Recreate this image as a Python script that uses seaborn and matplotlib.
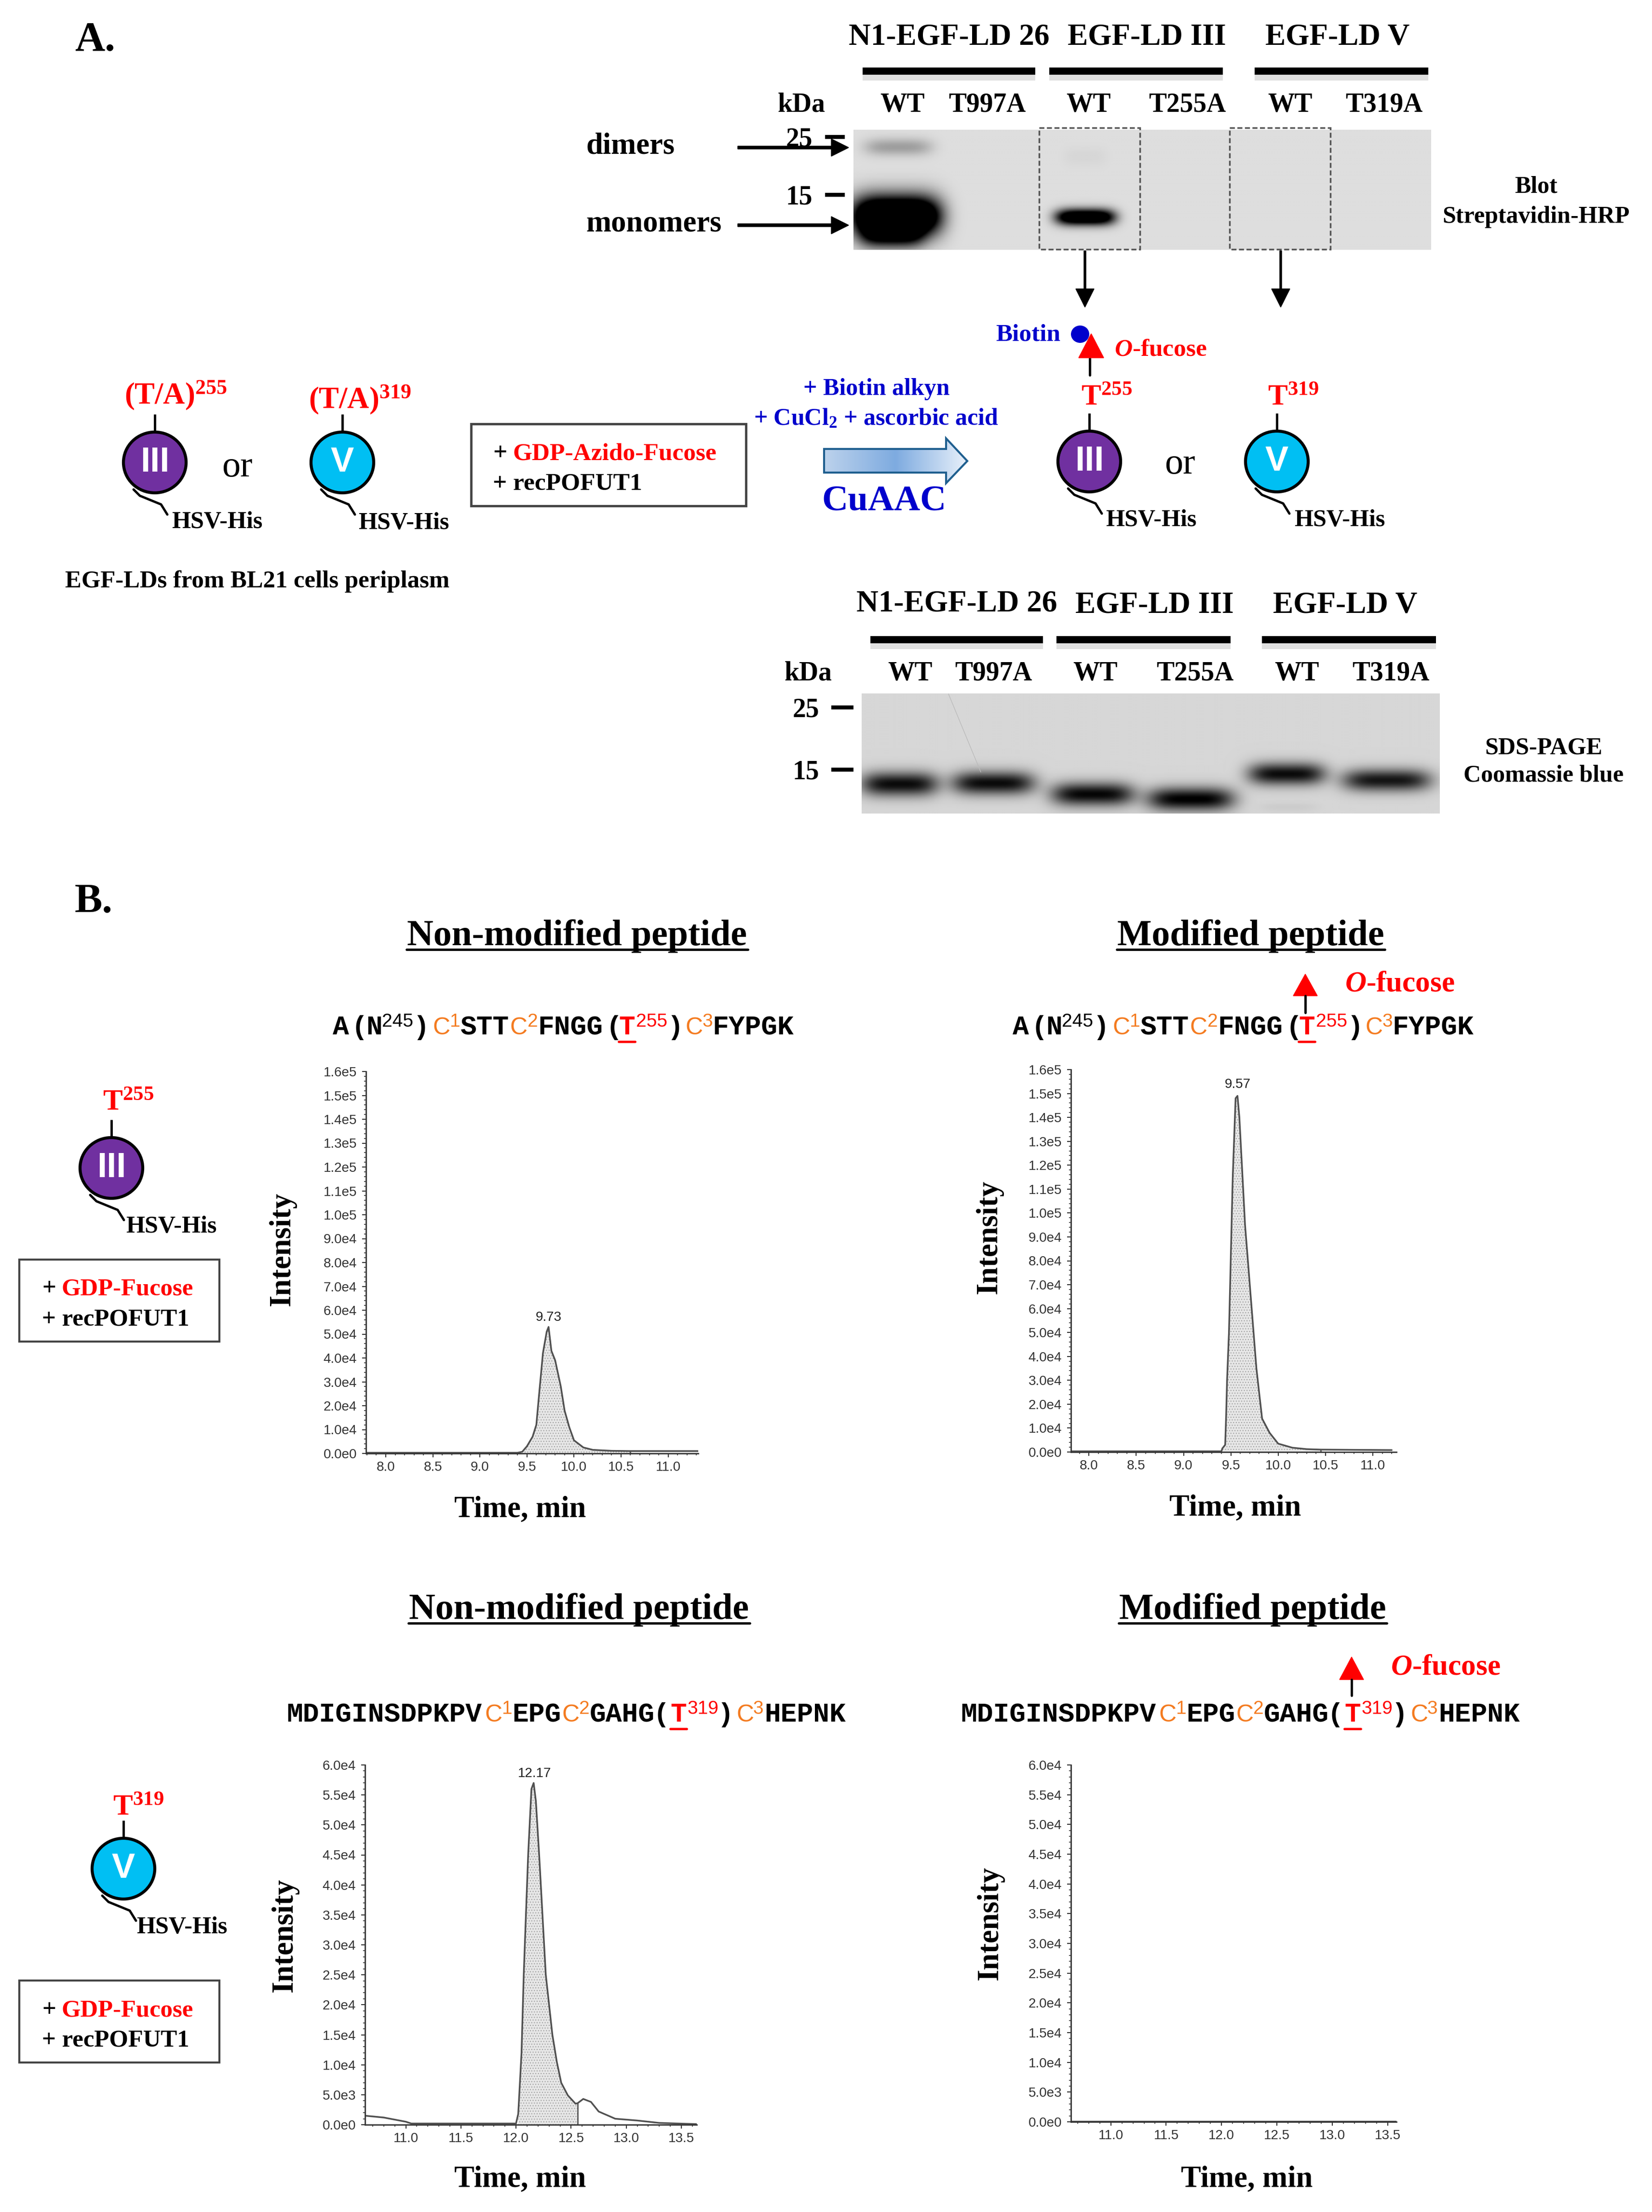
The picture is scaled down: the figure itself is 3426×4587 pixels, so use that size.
import matplotlib
matplotlib.use('Agg')
import matplotlib.pyplot as plt
import numpy as np
import seaborn as sns
from matplotlib.colors import LinearSegmentedColormap
from matplotlib.patches import Ellipse, Polygon, Rectangle
from matplotlib.ticker import MultipleLocator

W, H = 3426, 4587

# chromatograms (time in min, intensity in counts)
t255_free_time = [7.79, 9.0, 9.4, 9.45, 9.5, 9.56, 9.6, 9.63, 9.67, 9.71, 9.73, 9.76, 9.8, 9.86, 9.9, 9.95,
                  10.0, 10.1, 10.2, 10.4, 10.6, 11.0, 11.32]
t255_free_int = [300, 300, 300, 700, 3000, 7000, 12000, 25000, 42000, 51000, 53000, 43000, 39000, 28000, 18000,
                 11000, 5500, 2500, 1500, 1100, 1000, 1000, 1000]
t255_mod_time = [7.81, 9.0, 9.4, 9.41, 9.44, 9.45, 9.46, 9.48, 9.52, 9.55, 9.57, 9.59, 9.65, 9.72, 9.77, 9.83,
                 9.91, 10.0, 10.15, 10.3, 10.45, 10.8, 11.2]
t255_mod_int = [300, 300, 300, 1500, 3000, 15000, 30000, 50000, 115000, 148000, 149000, 140000, 95000, 60000,
                35000, 14000, 8000, 3500, 1800, 1200, 1000, 900, 800]
t319_free_time = [10.63, 10.8, 11.0, 11.05, 11.5, 12.0, 12.02, 12.05, 12.07, 12.09, 12.11, 12.14, 12.16, 12.18,
                  12.21, 12.27, 12.33, 12.37, 12.41, 12.47, 12.54, 12.56, 12.61, 12.68, 12.75, 12.9, 13.1, 13.3,
                  13.64]
t319_free_int = [1500, 1200, 500, 200, 200, 200, 1800, 12000, 25000, 35000, 45000, 56000, 57000, 54000, 45000,
                 25000, 15000, 10500, 7000, 4900, 3500, 3600, 4300, 3800, 2200, 1000, 700, 300, 100]
t319_mod_time = [10.64, 13.58]
t319_mod_int = [100, 100]

# integrated windows of the shaded peaks (min)
t255_free_area = (9.45, 10.6)
t255_mod_area = (9.41, 10.45)
t319_free_area = (12.02, 12.56)

high_ticks = [0, 1e4, 2e4, 3e4, 4e4, 5e4, 6e4, 7e4, 8e4, 9e4, 1e5, 1.1e5, 1.2e5, 1.3e5, 1.4e5, 1.5e5, 1.6e5]
high_labels = ['0.0e0', '1.0e4', '2.0e4', '3.0e4', '4.0e4', '5.0e4', '6.0e4', '7.0e4', '8.0e4', '9.0e4', '1.0e5',
               '1.1e5', '1.2e5', '1.3e5', '1.4e5', '1.5e5', '1.6e5']
low_ticks = [0, 5e3, 1e4, 1.5e4, 2e4, 2.5e4, 3e4, 3.5e4, 4e4, 4.5e4, 5e4, 5.5e4, 6e4]
low_labels = ['0.0e0', '5.0e3', '1.0e4', '1.5e4', '2.0e4', '2.5e4', '3.0e4', '3.5e4', '4.0e4', '4.5e4', '5.0e4',
              '5.5e4', '6.0e4']
early_ticks = [8.0, 8.5, 9.0, 9.5, 10.0, 10.5, 11.0]
late_ticks = [11.0, 11.5, 12.0, 12.5, 13.0, 13.5]

# gel bands: lane centre, half width, band centre, half height, darkness (all on the gel picture)
blot_bands = [(1858, 92, 448, 42, 1.7), (1848, 66, 490, 26, 0.6), (1862, 70, 304, 18, 0.25),
              (2250, 62, 450, 17, 1.3), (2250, 45, 324, 20, 0.03)]
page_bands = [(1865, 80, 1626, 25, 0.8), (2059, 86, 1624, 24, 0.8), (2265, 86, 1647, 24, 0.82),
              (2468, 90, 1657, 24, 0.85), (2667, 80, 1605, 23, 0.8), (2874, 92, 1618, 23, 0.76),
              (2670, 60, 1674, 10, 0.04)]

blot_headers = ['N1-EGF-LD 26', 'EGF-LD III', 'EGF-LD V']
lanes = ['WT', 'T997A', 'WT', 'T255A', 'WT', 'T319A']

sns.set_theme(style='ticks')
plt.rcParams['font.family'] = 'Liberation Serif'
plt.rcParams['hatch.linewidth'] = 0.8
plt.rcParams['mathtext.fontset'] = 'custom'
plt.rcParams['mathtext.rm'] = 'Liberation Serif:bold'
plt.rcParams['mathtext.it'] = 'Liberation Serif:italic:bold'
plt.rcParams['mathtext.default'] = 'rm'

fig = plt.figure(figsize=(W / 100, H / 100), dpi=100, facecolor='white')


def px_axes(left, top, right, bottom):
    return fig.add_axes([left / W, 1 - bottom / H, (right - left) / W, (bottom - top) / H])


RED = '#ff0000'
BLUE = '#0000cc'
ORANGE = '#f47b20'

# overlay in picture pixels for all the schematic parts
ov = fig.add_axes([0, 0, 1, 1])
ov.set_zorder(10)
ov.patch.set_visible(False)
ov.axis('off')


def label(x, y, s, size=36, color='black', weight='bold', **kw):
    kw.setdefault('ha', 'center')
    kw.setdefault('va', 'center')
    ov.text(x, y + 5, s, fontsize=size, color=color, fontweight=weight, **kw)


def domain(cx, cy, name, color):
    ov.plot([cx, cx], [cy - 100, cy - 60], color='black', lw=3.5, solid_capstyle='butt')
    ov.add_patch(Ellipse((cx, cy), 130, 126, fc=color, ec='black', lw=4.5, zorder=3))
    ov.plot([cx - 44, cx - 31, cx + 13, cx + 26], [cy + 56, cy + 69, cy + 87, cy + 108], color='black', lw=3.5)
    ov.text(cx, cy, name, color='white', fontsize=52, fontweight='bold', family='Liberation Sans',
            ha='center', va='center', zorder=4)


def gel(left, top, right, bottom, bands, background):
    ax = px_axes(left, top, right, bottom)
    xs = np.arange(left, right, 2.0)
    ys = np.arange(top, bottom, 2.0)
    xx, yy = np.meshgrid(xs, ys)
    img = np.full(xx.shape, background)
    for cx, wx, cy, wy, dark in bands:
        img -= dark * np.exp(-((xx - cx) / wx) ** 4 - ((yy - cy) / wy) ** 2)
    ax.imshow(np.clip(img, 0, 1), cmap='gray', vmin=0, vmax=1, aspect='auto', interpolation='bilinear')
    ax.axis('off')


def bar(x0, x1, y):
    ov.add_patch(Rectangle((x0, y + 7), x1 - x0, 12, fc='#bbbbbb', ec='none', alpha=0.45))
    ov.add_patch(Rectangle((x0, y - 8), x1 - x0, 15, fc='black', ec='none'))


def lane_row(y, bars, lane_x, kda_x, kda_y):
    for x0, x1 in bars:
        bar(x0, x1, y)
    label(kda_x, kda_y, 'kDa', size=40)
    for s, lx in zip(lanes, lane_x):
        label(lx, kda_y, s, size=40)


def seq(x0, base, parts):
    for text, kind, dx in parts:
        if kind in ('sup', 'sup_o', 'sup_r'):
            col = {'sup': 'black', 'sup_o': ORANGE, 'sup_r': RED}[kind]
            ov.text(x0 + dx, base - 16, text, fontsize=28, color=col, family='Liberation Sans', ha='left',
                    va='baseline')
        elif kind == 'o':
            ov.text(x0 + dx, base, text, fontsize=36, color=ORANGE, family='Liberation Sans', ha='left',
                    va='baseline')
        else:
            col = RED if kind == 'r' else 'black'
            ov.text(x0 + dx, base, text, fontsize=40.5, color=col, family='Liberation Mono', fontweight='bold',
                    ha='left', va='baseline')


def fucose_arrow(x, top, mid, bottom, text_x, text_y):
    ov.add_patch(Polygon([(x - 25, mid), (x + 25, mid), (x, top)], fc=RED, ec=RED, lw=1))
    ov.plot([x, x], [mid, bottom], color='black', lw=3.5)
    label(text_x, text_y, r'$\mathit{O}$-fucose', size=44, color=RED)


def treatment_box(left, top, right, bottom, line1, line2):
    ov.add_patch(Rectangle((left, top), right - left, bottom - top, fc='white', ec='#444444', lw=3))
    label(left + 47, line1, '+', size=36.5, ha='left')
    label(left + 88, line1, 'GDP-Fucose', size=36.5, color=RED, ha='left')
    label(left + 47, line2, '+ recPOFUT1', size=36.5, ha='left')


# panel letters
label(155, 79, 'A.', size=62, ha='left')
label(155, 1866, 'B.', size=62, ha='left')

# panel A, blot
gel(1770, 269, 2968, 518, blot_bands, 0.87)
lane_row(148, [(1789, 2147), (2176, 2536), (2602, 2962)], [1872, 2047, 2258, 2462, 2676, 2870], 1662, 212)
for s, x in zip(blot_headers, [1968, 2378, 2774]):
    label(x, 72, s, size=45.5)
for s, y in zip(['25', '15'], [284, 404]):
    label(1657, y, s, size=40)
    ov.plot([1711, 1752], [y, y], color='black', lw=6, solid_capstyle='butt')
for s, x, y, arrow_y in [('dimers', 1307, 298, 306), ('monomers', 1356, 459, 467)]:
    label(x, y, s, size=45)
    ov.arrow(1530, arrow_y, 230, 0, width=6, head_width=36, head_length=36, length_includes_head=True,
             color='black', zorder=5)
for x0 in [2155, 2550]:
    ov.add_patch(Rectangle((x0, 265), 209, 252, fill=False, ec='#555555', lw=2.5, ls=(0, (3, 1.5))))
for x in [2250, 2656]:
    ov.arrow(x, 520, 0, 117, width=4, head_width=38, head_length=38, length_includes_head=True, color='black')
label(3185, 382, 'Blot', size=36)
label(3185, 445, 'Streptavidin-HRP', size=36)

# panel A, reaction line
ov.add_patch(Ellipse((2240, 693), 38, 36, fc=BLUE, ec='none'))
ov.add_patch(Polygon([(2237, 742), (2289, 742), (2263, 692)], fc=RED, ec=RED, lw=1, zorder=4))
ov.plot([2260, 2260], [743, 778], color='black', lw=3.5)
label(2132, 689, 'Biotin', size=37, color=BLUE)
label(2407, 720, r'$\mathit{O}$-fucose', size=37, color=RED)
label(2295, 820, 'T$^{255}$', size=44, color=RED)
label(2682, 820, 'T$^{319}$', size=44, color=RED)
label(364, 815, '(T/A)$^{255}$', size=45, color=RED)
label(746, 824, '(T/A)$^{319}$', size=45, color=RED)
for cx, cy, name, color in [(321, 959, 'III', '#7030a0'), (710, 959, 'V', '#00bff3'),
                            (2259, 957, 'III', '#7030a0'), (2648, 957, 'V', '#00bff3')]:
    domain(cx, cy, name, color)
for x, y in [(492, 964), (2447, 958)]:
    label(x, y, 'or', size=55, weight='normal')
for x, y in [(450, 1078), (837, 1080), (2387, 1074), (2778, 1074), (355, 2539), (377, 3992)]:
    label(x, y, 'HSV-His', size=36)
label(534, 1201, 'EGF-LDs from BL21 cells periplasm', size=36.5)
ov.add_patch(Rectangle((977, 879), 570, 170, fc='white', ec='#444444', lw=3.5))
label(1022, 936, '+', size=37, ha='left')
label(1064, 936, 'GDP-Azido-Fucose', size=37, color=RED, ha='left')
label(1022, 998, '+ recPOFUT1', size=37, ha='left')
label(1818, 802, '+ Biotin alkyn', size=36, color=BLUE)
label(1817, 864, '+ CuCl$_{2}$ + ascorbic acid', size=36, color=BLUE)
label(1833, 1035, 'CuAAC', size=54, color=BLUE)

arrow_shape = Polygon([(1709, 931), (1962, 931), (1962, 909), (2006, 956), (1962, 1002), (1962, 980), (1709, 980)],
                      fc='none', ec='#1f5f8f', lw=3, zorder=3)
ov.add_patch(arrow_shape)
shade = LinearSegmentedColormap.from_list('arrow', ['#bcd2ec', '#7eabe0', '#e8f0fa'])
grad = ov.imshow(np.linspace(0, 1, 200).reshape(1, -1), extent=(1709, 2006, 1002, 909), cmap=shade, aspect='auto',
                 zorder=2)
grad.set_clip_path(arrow_shape)

# panel A, Coomassie gel
gel(1787, 1438, 2985, 1687, page_bands, 0.84)
lane_row(1327, [(1805, 2163), (2191, 2552), (2617, 2978)], [1888, 2060, 2272, 2478, 2690, 2884], 1676, 1391)
for s, x, y in zip(blot_headers, [1984, 2394, 2790], [1247, 1250, 1250]):
    label(x, y, s, size=45.5)
ov.plot([1967, 2034], [1439, 1601], color='#bbbbbb', lw=1)
for s, y in zip(['25', '15'], [1467, 1596]):
    label(1671, y, s, size=40)
    ov.plot([1724, 1770], [y, y], color='black', lw=6, solid_capstyle='butt')
label(3201, 1546, 'SDS-PAGE', size=36)
label(3201, 1603, 'Coomassie blue', size=36)

# panel B, headings
for s, x, y, half in [('Non-modified peptide', 1197, 1932, 354), ('Modified peptide', 2594, 1932, 278),
                      ('Non-modified peptide', 1201, 3329, 354), ('Modified peptide', 2598, 3329, 278)]:
    label(x, y + 4, s, size=54.5)
    ov.plot([x - half, x + half], [y + 37, y + 37], color='black', lw=3.5)

# panel B, peptide sequences
seq_t255 = [('A', 'k', 0), ('(', 'k', 39), ('N', 'k', 69), ('245', 'sup', 102), (')', 'k', 167), ('C', 'o', 207),
            ('1', 'sup_o', 243), ('STT', 'k', 265), ('C', 'o', 368), ('2', 'sup_o', 404), ('FNGG', 'k', 425),
            ('(', 'k', 566), ('T', 'r', 593), ('255', 'sup_r', 629), (')', 'k', 694), ('C', 'o', 731),
            ('3', 'sup_o', 767), ('FYPGK', 'k', 787)]
seq_t319 = [('MDIGINSDPKPV', 'k', 0), ('C', 'o', 412), ('1', 'sup_o', 447), ('EPG', 'k', 468), ('C', 'o', 571),
            ('2', 'sup_o', 607), ('GAHG', 'k', 629), ('(', 'k', 761), ('T', 'r', 796), ('319', 'sup_r', 832),
            (')', 'k', 894), ('C', 'o', 933), ('3', 'sup_o', 968), ('HEPNK', 'k', 991)]
for x0, base, parts, dx in [(690, 2145, seq_t255, 593), (2100, 2145, seq_t255, 593),
                            (594, 3570, seq_t319, 796), (1992, 3570, seq_t319, 796)]:
    seq(x0, base, parts)
    ov.plot([x0 + dx, x0 + dx + 34], [base + 15, base + 15], color=RED, lw=3.5)
fucose_arrow(2707, 2020, 2065, 2100, 2903, 2035)
fucose_arrow(2803, 3436, 3483, 3516, 2998, 3452)

# panel B, schematic on the left
domain(231, 2422, 'III', '#7030a0')
domain(256, 3875, 'V', '#00bff3')
label(266, 2282, 'T$^{255}$', size=44, color=RED)
label(287, 3744, 'T$^{319}$', size=44, color=RED)
treatment_box(40, 2612, 455, 2782, 2668, 2731)
treatment_box(40, 4107, 455, 4277, 4164, 4226)

ov.set_xlim(0, W)
ov.set_ylim(H, 0)

# chromatograms
charts = [
    dict(rect=(759, 2222, 1448, 3014), time=t255_free_time, vals=t255_free_int, area=t255_free_area,
         xlim=(7.79, 11.32), ylim=1.6e5, xt=early_ticks, yt=high_ticks, yl=high_labels, minor=2e3,
         peak=('9.73', 9.73, 2732), xlab=(1079, 3131), ylab=(586, 2590)),
    dict(rect=(2221, 2218, 2896, 3011), time=t255_mod_time, vals=t255_mod_int, area=t255_mod_area,
         xlim=(7.81, 11.25), ylim=1.6e5, xt=early_ticks, yt=high_ticks, yl=high_labels, minor=2e3,
         peak=('9.57', 9.57, 2249), xlab=(2562, 3128), ylab=(2052, 2565)),
    dict(rect=(757, 3660, 1445, 4406), time=t319_free_time, vals=t319_free_int, area=t319_free_area,
         xlim=(10.63, 13.64), ylim=6e4, xt=late_ticks, yt=low_ticks, yl=low_labels, minor=1e3,
         peak=('12.17', 12.17, 3678), xlab=(1079, 4520), ylab=(591, 4013)),
    dict(rect=(2221, 3660, 2896, 4400), time=t319_mod_time, vals=t319_mod_int, area=None,
         xlim=(10.64, 13.58), ylim=6e4, xt=late_ticks, yt=low_ticks, yl=low_labels, minor=1e3,
         peak=None, xlab=(2586, 4520), ylab=(2054, 3988)),
]

for c in charts:
    left, top, right, bottom = c['rect']
    ax = px_axes(left, top, right, bottom)
    ax.patch.set_visible(False)
    time = np.array(c['time'])
    vals = np.array(c['vals'])
    if c['area']:
        mask = (time >= c['area'][0]) & (time <= c['area'][1])
        ax.fill_between(time[mask], vals[mask], facecolor='#e6e6e6', edgecolor='#9a9a9a', hatch='...', lw=0)
        ax.vlines(c['area'][1], 0, vals[mask][-1], color='#555555', lw=2)
    sns.lineplot(x=time, y=vals, ax=ax, color='#505050', lw=2.5)
    ax.set_xlim(*c['xlim'])
    ax.set_ylim(0, c['ylim'])
    ax.set_xticks(c['xt'], labels=[f'{v:.1f}' for v in c['xt']], family='Liberation Sans', fontsize=20,
                  color='#333333')
    ax.set_yticks(c['yt'], labels=c['yl'], family='Liberation Sans', fontsize=20, color='#333333')
    ax.xaxis.set_minor_locator(MultipleLocator(0.1))
    ax.yaxis.set_minor_locator(MultipleLocator(c['minor']))
    ax.tick_params(which='major', length=5.5, width=1.5, color='#333333')
    ax.tick_params(which='minor', length=3, width=1.2, color='#333333')
    ax.tick_params(axis='x', which='major', pad=6)
    ax.tick_params(axis='y', which='major', pad=8)
    sns.despine(ax=ax)
    for side in ['left', 'bottom']:
        ax.spines[side].set_color('#333333')
        ax.spines[side].set_linewidth(2)
    ax.set_xlabel('Time, min', fontsize=45, fontweight='bold', color='black', va='center')
    ax.set_ylabel('Intensity', fontsize=45, fontweight='bold', color='black', va='center')
    ax.xaxis.set_label_coords((c['xlab'][0] - left) / (right - left), (bottom - c['xlab'][1]) / (bottom - top))
    ax.yaxis.set_label_coords((c['ylab'][0] - left) / (right - left), (bottom - c['ylab'][1]) / (bottom - top))
    if c['peak']:
        s, px, py = c['peak']
        ax.text(px, (bottom - py) / (bottom - top), s, transform=ax.get_xaxis_transform(), ha='center', va='center',
                family='Liberation Sans', fontsize=20, color='#222222')

fig.savefig('out.png', dpi=100)
